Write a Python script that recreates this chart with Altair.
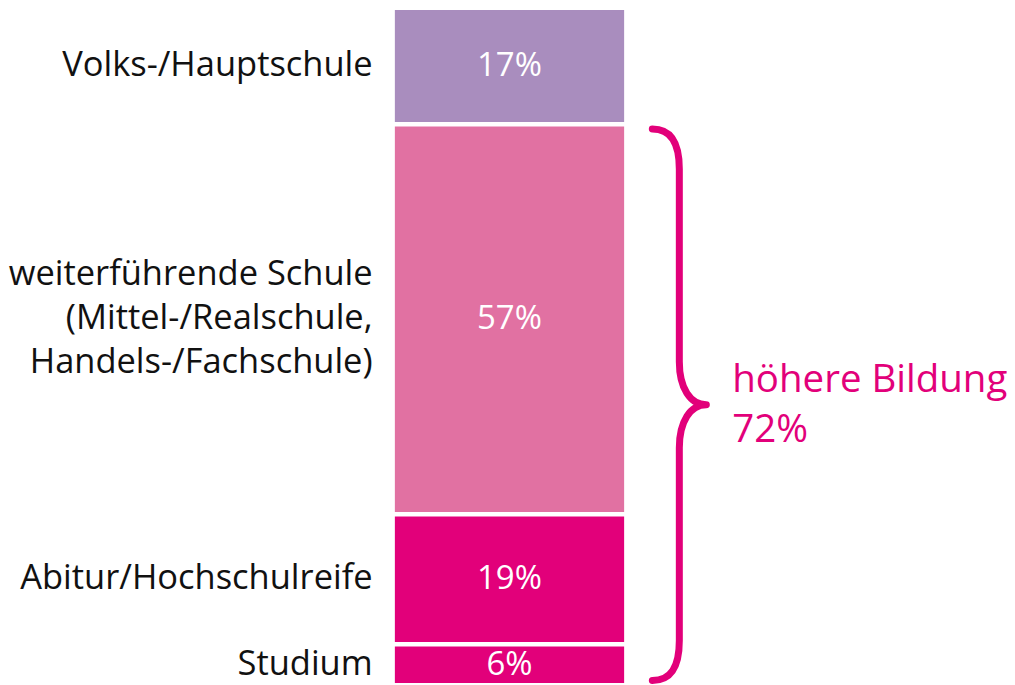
import altair as alt
import pandas as pd

# ---- data ----
categories = [
    "Volks-/Hauptschule",
    "weiterführende Schule\n(Mittel-/Realschule,\nHandels-/Fachschule)",
    "Abitur/Hochschulreife",
    "Studium",
]
values = [17, 57, 19, 6]
value_labels = ["17%", "57%", "19%", "6%"]
colors = ["#A98DBE", "#E171A2", "#E2007A", "#E2007A"]
group_label = "höhere Bildung\n72%"
group_members = [1, 2, 3]  # indices of the "höhere Bildung" segments

MAGENTA = "#E2007A"
FONT = "Open Sans"
CAT_LH = 44
GRP_LH = 50

# ---- derived table ----
starts, ends = [], []
acc = 0
for v in values:
    starts.append(acc)
    acc += v
    ends.append(acc)
df = pd.DataFrame({
    "cat": categories,
    "value": values,
    "label": value_labels,
    "color": colors,
    "start": starts,
    "end": ends,
})
df["mid"] = (df["start"] + df["end"]) / 2
df["nlines"] = [c.count("\n") + 1 for c in categories]

total = sum(values)
grp_start = starts[group_members[0]]
grp_end = ends[group_members[-1]]
grp_df = pd.DataFrame({"mid": [(grp_start + grp_end) / 2], "text": [group_label]})
grp_lines = group_label.count("\n") + 1

yscale = alt.Scale(domain=[0, total], range=[-0.5, 677.7], nice=False, zero=False)

bars = alt.Chart(df).mark_rect(stroke="white", strokeWidth=4.5).encode(
    x=alt.value(385),
    x2=alt.value(619),
    y=alt.Y("start:Q", scale=yscale, axis=None),
    y2="end:Q",
    color=alt.Color("color:N", scale=None),
)

bar_text = alt.Chart(df).mark_text(
    color="white", fontSize=33, font=FONT, align="center", baseline="middle"
).encode(
    x=alt.value(502),
    y=alt.Y("mid:Q", scale=yscale, axis=None),
    text="label:N",
)

cat_layers = []
for n in sorted(set(df["nlines"])):
    cat_layers.append(
        alt.Chart(df).transform_filter(alt.datum.nlines == int(n)).mark_text(
            color="#111111", fontSize=34.5, font=FONT, align="right", baseline="middle",
            lineBreak="\n", lineHeight=CAT_LH, dy=-(int(n) - 1) * CAT_LH / 2,
        ).encode(
            x=alt.value(365),
            y=alt.Y("mid:Q", scale=yscale, axis=None),
            text="cat:N",
        )
    )

brace_path = (
    "M -0.098 -1 C -0.03 -1 0 -0.95 0 -0.855 L 0 -0.156 "
    "C 0 -0.06 0.04 0 0.098 0 C 0.04 0 0 0.06 0 0.156 "
    "L 0 0.855 C 0 0.95 -0.03 1 -0.098 1"
)
brace = alt.Chart(grp_df).mark_point(
    shape=brace_path, filled=False, stroke=MAGENTA, strokeWidth=7,
    opacity=1, size=552 * 552, strokeCap="round", strokeJoin="round",
).encode(
    x=alt.value(672),
    y=alt.Y("mid:Q", scale=yscale, axis=None),
)

grp_text = alt.Chart(grp_df).mark_text(
    color=MAGENTA, fontSize=38.5, font=FONT, align="left", baseline="middle",
    lineBreak="\n", lineHeight=GRP_LH, dy=-(grp_lines - 1) * GRP_LH / 2,
).encode(
    x=alt.value(725),
    y=alt.Y("mid:Q", scale=yscale, axis=None),
    text="text:N",
)

chart = alt.layer(bars, bar_text, *cat_layers, brace, grp_text).properties(
    width=1000, height=680,
    autosize=alt.AutoSizeParams(type="none"),
    padding=0,
    background="white",
).configure_view(stroke=None)

chart.save("out.html", embed_options={"renderer": "svg", "actions": False})
